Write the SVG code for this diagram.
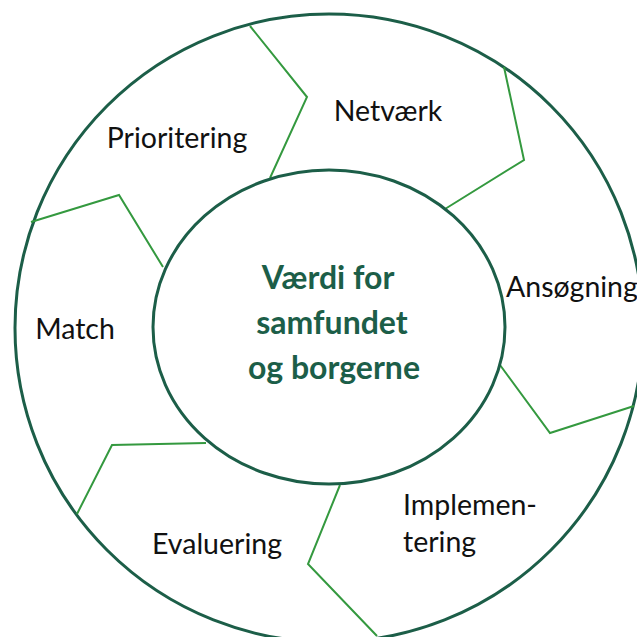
<svg xmlns="http://www.w3.org/2000/svg" width="637" height="637" viewBox="0 0 637 637">
  <style>
    .ring { fill: none; stroke: #1c5e48; stroke-width: 3; }
    .div { fill: none; stroke: #34993f; stroke-width: 2; stroke-linejoin: miter; }
    .lbl { font-family: Lato, "Liberation Sans", sans-serif; font-size: 28.5px; fill: #111111; }
    .ctr { font-family: Lato, "Liberation Sans", sans-serif; font-size: 32px; font-weight: bold; fill: #1c5e48; text-anchor: middle; }
  </style>
  <rect width="637" height="637" fill="#ffffff"/>
  <g id="outer-ring">
    <circle class="ring" cx="329" cy="328" r="314"/>
  </g>
  <g id="connectors">
    <polyline class="div" points="250,26 307,97 270,178"/>
    <polyline class="div" points="504,67 524,160 445,209"/>
    <polyline class="div" points="500,365 550,433 634,406"/>
    <polyline class="div" points="340,485 308,564 377,636"/>
    <polyline class="div" points="206,443 112,445 77,514"/>
    <polyline class="div" points="31,222 119,195 163,267"/>
  </g>
  <g id="center">
    <ellipse class="ring" cx="329" cy="327" rx="176" ry="157" fill="#ffffff"/>
    <text class="ctr" x="328" y="289">Værdi for</text>
    <text class="ctr" x="332" y="334">samfundet</text>
    <text class="ctr" x="334" y="379">og borgerne</text>
  </g>
  <g id="prioritering">
    <text class="lbl" x="177" y="148" text-anchor="middle">Prioritering</text>
  </g>
  <g id="netvaerk">
    <text class="lbl" x="388" y="121" text-anchor="middle">Netværk</text>
  </g>
  <g id="ansoegning">
    <text class="lbl" x="506" y="297">Ansøgning</text>
  </g>
  <g id="implementering">
    <text class="lbl" x="403" y="515">Implemen-</text>
    <text class="lbl" x="403" y="552">tering</text>
  </g>
  <g id="evaluering">
    <text class="lbl" x="217" y="554" text-anchor="middle">Evaluering</text>
  </g>
  <g id="match">
    <text class="lbl" x="75" y="339" text-anchor="middle">Match</text>
  </g>
</svg>
